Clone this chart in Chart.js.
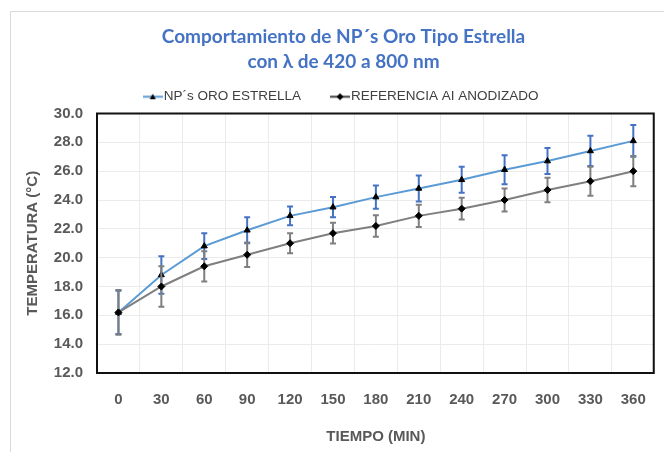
<!DOCTYPE html>
<html>
<head>
<meta charset="utf-8">
<script src="https://cdn.jsdelivr.net/npm/chart.js@4"></script>
<style>
  body { margin: 0; background: #fff; }
</style>
</head>
<body>
<canvas id="chart" width="664" height="452"></canvas>
<script>
// Data
var tiempo = ['0', '30', '60', '90', '120', '150', '180', '210', '240', '270', '300', '330', '360'];
var npOro = [16.2, 18.8, 20.8, 21.9, 22.9, 23.5, 24.2, 24.8, 25.4, 26.1, 26.7, 27.4, 28.1];
var npOroErr = [1.5, 1.3, 0.9, 0.9, 0.65, 0.7, 0.8, 0.9, 0.9, 1.0, 0.9, 1.05, 1.1];
var referencia = [16.2, 18.0, 19.4, 20.2, 21.0, 21.7, 22.2, 22.9, 23.4, 24.0, 24.7, 25.3, 26.0];
var referenciaErr = [1.55, 1.4, 1.05, 0.85, 0.7, 0.72, 0.75, 0.77, 0.76, 0.8, 0.85, 1.0, 1.05];
var yTicks = [12, 14, 16, 18, 20, 22, 24, 26, 28, 30];

var tickFont = { family: '"Liberation Sans", Arial, sans-serif', size: 15, weight: 'bold' };

// little "line + marker" icon for the legend
function legendIcon(lineColor, marker) {
  var c = document.createElement('canvas');
  c.width = 20;
  c.height = 9;
  var g = c.getContext('2d');
  g.strokeStyle = lineColor;
  g.lineWidth = 2;
  g.beginPath();
  g.moveTo(0, 4.5);
  g.lineTo(20, 4.5);
  g.stroke();
  g.fillStyle = '#000';
  g.beginPath();
  if (marker === 'triangle') {
    g.moveTo(10, 1.5);
    g.lineTo(13, 7);
    g.lineTo(7, 7);
  } else {
    g.moveTo(10, 1);
    g.lineTo(13.5, 4.5);
    g.lineTo(10, 8);
    g.lineTo(6.5, 4.5);
  }
  g.closePath();
  g.fill();
  return c;
}

// Error bars drawn through the y scale
var errorBars = {
  id: 'errorBars',
  beforeDatasetDraw: function(chart, args) {
    var ds = chart.data.datasets[args.index];
    if (!ds.errors) return;
    var ctx = chart.ctx;
    var y = chart.scales.y;
    ctx.save();
    ctx.strokeStyle = ds.errorColor;
    ctx.lineWidth = 2;
    args.meta.data.forEach(function(pt, i) {
      var top = y.getPixelForValue(ds.data[i] + ds.errors[i]);
      var bot = y.getPixelForValue(ds.data[i] - ds.errors[i]);
      ctx.beginPath();
      ctx.moveTo(pt.x, top);
      ctx.lineTo(pt.x, bot);
      ctx.moveTo(pt.x - 3, top);
      ctx.lineTo(pt.x + 3, top);
      ctx.moveTo(pt.x - 3, bot);
      ctx.lineTo(pt.x + 3, bot);
      ctx.stroke();
    });
    ctx.restore();
  }
};

// Plot frame and the light outer frame
var frames = {
  id: 'frames',
  beforeDraw: function(chart) {
    var ctx = chart.ctx;
    ctx.save();
    ctx.fillStyle = '#fff';
    ctx.fillRect(0, 0, chart.width, chart.height);
    ctx.strokeStyle = '#d9d9d9';
    ctx.lineWidth = 1;
    ctx.beginPath();
    ctx.moveTo(10.5, chart.height);
    ctx.lineTo(10.5, 11.5);
    ctx.lineTo(chart.width, 11.5);
    ctx.stroke();
    ctx.restore();
  },
  afterDraw: function(chart) {
    var a = chart.chartArea;
    var ctx = chart.ctx;
    ctx.save();
    ctx.strokeStyle = '#111';
    ctx.lineWidth = 2;
    ctx.strokeRect(a.left, a.top, a.right - a.left - 1, a.bottom - a.top);
    ctx.restore();
  }
};

var ctx = document.getElementById('chart').getContext('2d');
var myChart = new Chart(ctx, {
  type: 'line',
  data: {
    labels: tiempo,
    datasets: [{
      label: 'NP´s ORO ESTRELLA',
      data: npOro,
      errors: npOroErr,
      errorColor: '#4472c4',
      borderColor: '#5b9bd5',
      borderWidth: 2,
      pointStyle: 'triangle',
      pointRadius: 3.5,
      pointBackgroundColor: '#000',
      pointBorderColor: '#000',
      pointBorderWidth: 1,
      tension: 0,
      order: 2
    }, {
      label: 'REFERENCIA AI ANODIZADO',
      data: referencia,
      errors: referenciaErr,
      errorColor: '#7f7f7f',
      borderColor: '#7f7f7f',
      borderWidth: 2,
      pointStyle: 'rectRot',
      pointRadius: 3.5,
      pointBackgroundColor: '#000',
      pointBorderColor: '#000',
      pointBorderWidth: 1,
      tension: 0,
      order: 1
    }]
  },
  options: {
    responsive: false,
    animation: false,
    layout: { padding: { top: 12, left: 24, right: 1, bottom: 0 } },
    plugins: {
      title: {
        display: true,
        text: ['Comportamiento de NP´s Oro Tipo Estrella', 'con λ de 420 a 800 nm'],
        color: '#4472c4',
        font: { family: 'Lato, "Open Sans", sans-serif', size: 19, weight: 'bold', lineHeight: '25px' },
        padding: { top: 12, bottom: 0 }
      },
      legend: {
        display: true,
        labels: {
          usePointStyle: true,
          pointStyleWidth: 8.5,
          padding: 16,
          color: '#404040',
          font: { family: '"Liberation Sans", Arial, sans-serif', size: 13.5 },
          generateLabels: function(chart) {
            var items = Chart.defaults.plugins.legend.labels.generateLabels(chart);
            items.sort(function(a, b) { return a.datasetIndex - b.datasetIndex; });
            items[0].pointStyle = legendIcon('#5b9bd5', 'triangle');
            items[0].text = items[0].text + '     ';
            items[1].pointStyle = legendIcon('#404040', 'diamond');
            return items;
          }
        }
      },
      tooltip: { enabled: false }
    },
    scales: {
      x: {
        offset: true,
        grid: { offset: true, color: '#ebebeb', drawTicks: false },
        border: { display: false },
        ticks: { color: '#595959', font: tickFont, padding: 18, maxRotation: 0 },
        title: {
          display: true,
          text: 'TIEMPO (MIN)',
          color: '#595959',
          font: tickFont,
          padding: { top: 0, bottom: 6 }
        },
        afterFit: function(scale) { scale.height = 79; }
      },
      y: {
        min: yTicks[0],
        max: yTicks[yTicks.length - 1],
        afterBuildTicks: function(scale) {
          scale.ticks = yTicks.map(function(v) { return { value: v }; });
        },
        grid: { color: '#ebebeb', drawTicks: false },
        border: { display: false },
        ticks: {
          color: '#595959',
          font: tickFont,
          padding: 14,
          callback: function(v) { return Number(v).toFixed(1); }
        },
        title: {
          display: true,
          text: 'TEMPERATURA (°C)',
          color: '#595959',
          font: tickFont,
          padding: { top: 0, bottom: 0 }
        },
        afterFit: function(scale) { scale.width = 73; }
      }
    }
  },
  plugins: [frames, errorBars]
});
</script>
</body>
</html>
